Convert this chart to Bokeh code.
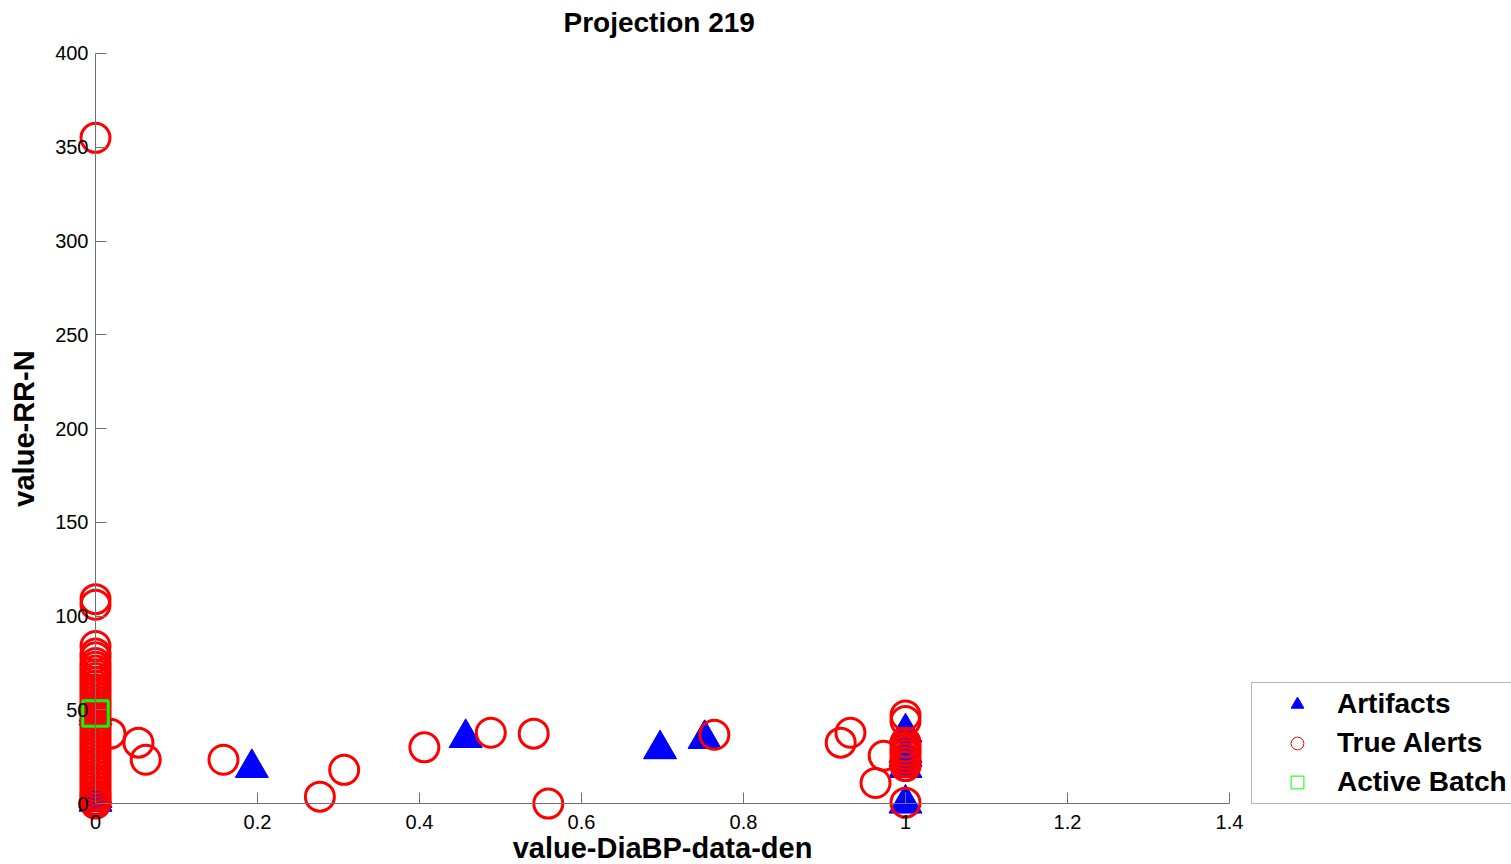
from bokeh.plotting import figure
from bokeh.models import Range1d, LinearAxis, FixedTicker, Legend, LegendItem
from bokeh.embed import file_html
from bokeh.resources import INLINE

# ---------------- data ----------------
title_text = "Projection 219"
x_label = "value-DiaBP-data-den"
y_label = "value-RR-N"

x_ticks = [0, 0.2, 0.4, 0.6, 0.8, 1.0, 1.2, 1.4]
x_tick_labels = ["0", "0.2", "0.4", "0.6", "0.8", "1", "1.2", "1.4"]
y_ticks = [0, 50, 100, 150, 200, 250, 300, 350, 400]

# Artifacts (blue filled triangles)
artifacts_x = [0.0, 0.0, 0.0, 0.0, 0.0,
               0.193, 0.457, 0.697, 0.752,
               1.0, 1.0, 1.0, 1.0, 1.0]
artifacts_y = [1, 3, 5, 47, 49,
               19, 35, 29, 34.5,
               38, 27, 25, 19, 0]

# True Alerts (red open circles)
alerts_x = [0.0] * 46 + [
    0.0185, 0.053, 0.062, 0.158, 0.277, 0.307, 0.406, 0.488, 0.541, 0.559,
    0.764, 0.920, 0.932, 0.973, 0.963,
    1.0, 1.0, 1.0, 1.0, 1.0, 1.0, 1.0, 1.0, 1.0, 1.0]
alerts_y = [0, 1, 2, 4, 5, 7, 9, 11, 13, 15, 17, 19, 21, 23, 25, 27, 29, 31,
            33, 35, 37, 39, 41, 43, 45, 47, 49, 51, 53, 55, 57, 59, 61, 63, 65,
            67, 69, 71, 73, 75, 78, 80, 84, 106, 109, 355] + [
    37.3, 32.5, 23.4, 23.4, 3.7, 18, 30, 37.8, 37.3, 0,
    36.7, 32.5, 37.8, 25.5, 11,
    47, 44, 32.5, 30, 28, 26, 24, 22, 20, 0.5]

# Active Batch (green open square)
batch_x = [0.0]
batch_y = [48]

# ---------------- figure ----------------
FONT = "Liberation Sans"
AXIS_GRAY = "#707070"

W, H = 1511, 864
TOP = 40                      # title band above the frame
X0_PX, X1_PX = 95, 1229       # pixel positions of x = 0 and x = 1.4
Y0_PX, Y1_PX = 803, 52        # pixel positions of y = 0 and y = 400
sx = (X1_PX - X0_PX) / 1.4
sy = (Y0_PX - Y1_PX) / 400.0

p = figure(width=W, height=H, output_backend="svg", toolbar_location=None,
           x_range=Range1d(-X0_PX / sx, (W - X0_PX) / sx),
           y_range=Range1d(-(H - Y0_PX) / sy, (Y0_PX - TOP) / sy),
           x_axis_location=None, y_axis_location=None,
           min_border_left=0, min_border_right=0,
           min_border_top=TOP, min_border_bottom=0)
p.outline_line_color = None
p.background_fill_color = "white"
p.border_fill_color = "white"
for g in p.grid:
    g.visible = False

p.title.text = title_text
p.title.text_font = FONT
p.title.text_font_style = "bold"
p.title.text_font_size = "28px"
p.title.align = "left"
p.title.offset = 563
p.title.standoff = 8
p.title.text_color = "black"

def style_axis(ax):
    ax.axis_line_color = AXIS_GRAY
    ax.axis_line_width = 1
    ax.major_tick_line_color = AXIS_GRAY
    ax.major_tick_in = 11
    ax.major_tick_out = 0
    ax.minor_tick_in = 0
    ax.minor_tick_out = 0
    ax.minor_tick_line_color = None
    ax.major_label_text_font = FONT
    ax.major_label_text_font_size = "20px"
    ax.major_label_text_color = "black"
    ax.axis_label_text_font = FONT
    ax.axis_label_text_font_style = "bold"
    ax.axis_label_text_font_size = "29px"
    ax.axis_label_text_color = "black"

xaxis = LinearAxis(fixed_location=0, bounds=(0, 1.4),
                   ticker=FixedTicker(ticks=x_ticks), axis_label=x_label)
style_axis(xaxis)
xaxis.major_label_overrides = dict(zip(x_ticks, x_tick_labels))
xaxis.major_label_standoff = 11
xaxis.axis_label_standoff = 0
p.add_layout(xaxis, "below")

yaxis = LinearAxis(fixed_location=0, bounds=(0, 400),
                   ticker=FixedTicker(ticks=y_ticks), axis_label=y_label)
style_axis(yaxis)
yaxis.major_label_standoff = 7
yaxis.axis_label_standoff = 12
p.add_layout(yaxis, "left")

# ---------------- marks ----------------
# thin-outlined copies (hidden beneath the main marks) that give the legend its thin glyphs
leg_art = p.scatter(artifacts_x, artifacts_y, marker="triangle", size=33,
                    fill_color="#0000ff", line_color="#0000ff", line_width=1)
leg_alert = p.scatter(alerts_x, alerts_y, marker="circle", size=29,
                      fill_color=None, line_color="#ff0000", line_width=1)
leg_batch = p.scatter(batch_x, batch_y, marker="square", size=25.5,
                      fill_color=None, line_color="#00ff00", line_width=1)

p.scatter(artifacts_x, artifacts_y, marker="triangle", size=33,
          fill_color="#0000ff", line_color=None)
p.scatter(alerts_x, alerts_y, marker="circle", size=29,
          fill_color=None, line_color="#ff0000", line_width=3)
p.scatter(batch_x, batch_y, marker="square", size=25.5,
          fill_color=None, line_color="#00ff00", line_width=3)

legend = Legend(items=[
    LegendItem(label="Artifacts", renderers=[leg_art]),
    LegendItem(label="True Alerts", renderers=[leg_alert]),
    LegendItem(label="Active Batch", renderers=[leg_batch]),
], location=(1251, H - 804), padding=5, margin=0,
   glyph_width=80, glyph_height=32, label_height=32, label_width=200,
   spacing=7, label_standoff=0,
   label_text_font=FONT, label_text_font_style="bold", label_text_font_size="28px",
   label_text_color="black",
   border_line_color=AXIS_GRAY, border_line_width=1,
   background_fill_color="white", background_fill_alpha=1.0)
p.add_layout(legend)

open("out.html", "w").write(file_html(p, INLINE))
